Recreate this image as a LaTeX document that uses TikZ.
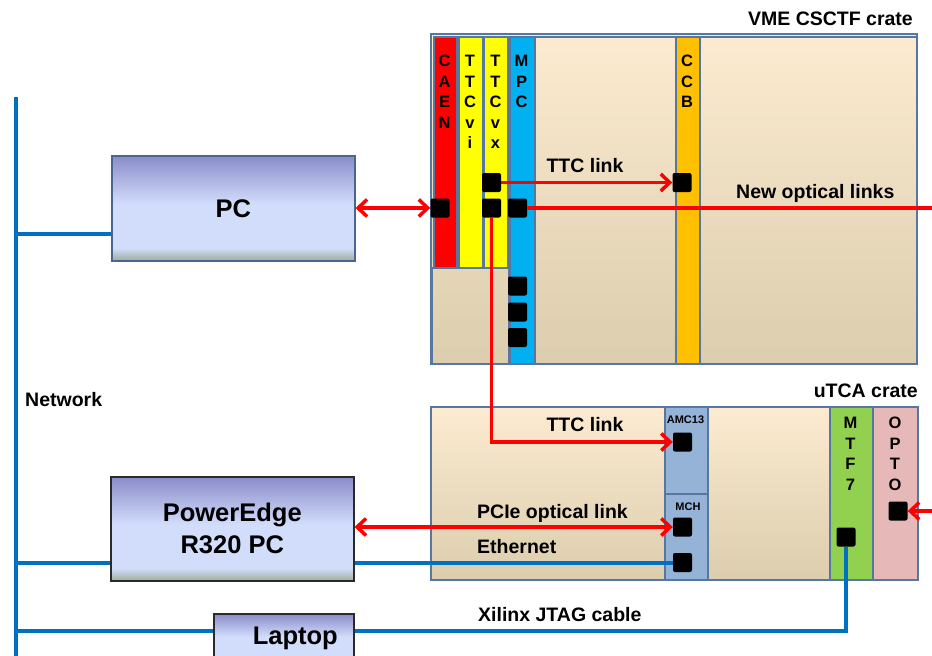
\documentclass[tikz,border=0pt]{standalone}
\usepackage{fontspec}
\setmainfont{Liberation Sans}
\usetikzlibrary{arrows.meta}
\definecolor{netblue}{HTML}{0070C0}
\definecolor{linkred}{HTML}{FF0000}
\definecolor{crateedge}{HTML}{56779F}
\definecolor{caenred}{HTML}{FF0000}
\definecolor{ttcyellow}{HTML}{FFFF00}
\definecolor{mpcblue}{HTML}{00B0F0}
\definecolor{ccborange}{HTML}{FFC000}
\definecolor{amcblue}{HTML}{95B3D7}
\definecolor{mtfgreen}{HTML}{92D050}
\definecolor{optopink}{HTML}{E6B9B8}
\definecolor{cratetop}{HTML}{FCEBD0}
\definecolor{cratebot}{HTML}{DCCDAE}
\definecolor{pctop}{HTML}{8A8CC9}
\definecolor{pclight}{HTML}{D2DDFB}
\definecolor{pcbot}{HTML}{9CAD98}
\definecolor{pcedge}{HTML}{4A6590}
\definecolor{darkedge}{HTML}{2A2A2A}
\pgfdeclareverticalshading{pcshade}{100bp}{color(0bp)=(pcbot); color(25bp)=(pcbot); color(31bp)=(pclight); color(52bp)=(pclight); color(75bp)=(pctop); color(100bp)=(pctop)}
\tikzset{
  crate/.style={draw=crateedge, line width=2pt, top color=cratetop, bottom color=cratebot, inner sep=0, anchor=north west},
  slotbox/.style={draw=crateedge, line width=1.5pt, inner sep=0, anchor=north west},
  sq/.style={fill=black, rounded corners=2pt, minimum size=19pt, inner sep=0},
  pcbox/.style={draw=pcedge, line width=1.5pt, shading=pcshade, inner sep=0, anchor=north west, align=center, font=\bfseries\fontsize{25.5}{32}\selectfont},
  lbl/.style={font=\bfseries\fontsize{19.5}{22}\selectfont, inner sep=0},
  slotlbl/.style={font=\bfseries\fontsize{16.5}{20.5}\selectfont, inner sep=0, anchor=north, align=center},
  tinylbl/.style={font=\bfseries\fontsize{11}{13}\selectfont, inner sep=0, anchor=base},
  netline/.style={draw=netblue, line width=4pt},
  redline/.style={draw=linkred, line width=3.5pt},
  redtip/.style={redline, -{Straight Barb[length=9pt, width=17pt]}},
  redboth/.style={redline, {Straight Barb[length=9pt, width=17pt]}-{Straight Barb[length=9pt, width=17pt]}}
}
\begin{document}
\begin{tikzpicture}[x=1pt, y=-1pt]
\useasboundingbox (0,0) rectangle (932,656);

% ---------- VME crate ----------
\node[crate, minimum width=486pt, minimum height=330pt] (vme) at (430,33) {};
\node[slotbox, fill=caenred, minimum width=23pt, minimum height=231pt] (caen) at (433,36) {};
\node[slotbox, fill=ttcyellow, minimum width=24pt, minimum height=231pt] (ttcvi) at (458,36) {};
\node[slotbox, fill=ttcyellow, minimum width=24pt, minimum height=231pt] (ttcvx) at (483,36) {};
\node[slotbox, minimum width=77pt, minimum height=96pt] (vmelow) at (431,267) {};
\node[slotbox, fill=mpcblue, minimum width=25pt, minimum height=327pt] (mpc) at (509,36) {};
\node[slotbox, minimum width=141pt, minimum height=327pt] (vmemid) at (534,36) {};
\node[slotbox, fill=ccborange, minimum width=24pt, minimum height=327pt] (ccb) at (675,36) {};
\node[slotbox, minimum width=217pt, minimum height=327pt] (vmeright) at (699,36) {};

\node[slotlbl] (caenlbl) at (444.5,55) {C\\A\\E\\N};
\node[slotlbl] (ttcvilbl) at (470,55) {T\\T\\C\\v\\i};
\node[slotlbl] (ttcvxlbl) at (495.5,55) {T\\T\\C\\v\\x};
\node[slotlbl] (mpclbl) at (521.5,55) {M\\P\\C};
\node[slotlbl] (ccblbl) at (687,55) {C\\C\\B};

\node[lbl, anchor=base east] (vmetitle) at (913,25) {VME CSCTF crate};

% ---------- uTCA crate ----------
\node[crate, minimum width=487pt, minimum height=173pt] (utca) at (430,406) {};
\node[slotbox, minimum width=234pt, minimum height=173pt] (utcaleft) at (430,406) {};
\node[slotbox, fill=amcblue, minimum width=43pt, minimum height=87pt] (amc) at (664,406) {};
\node[slotbox, fill=amcblue, minimum width=43pt, minimum height=86pt] (mch) at (664,493) {};
\node[slotbox, minimum width=122pt, minimum height=173pt] (utcamid) at (707,406) {};
\node[slotbox, fill=mtfgreen, minimum width=43pt, minimum height=173pt] (mtf) at (829,406) {};
\node[slotbox, fill=optopink, minimum width=45pt, minimum height=173pt] (opto) at (872,406) {};

\node[tinylbl] (amclbl) at (685.5,423) {AMC13};
\node[tinylbl] (mchlbl) at (688,510) {MCH};
\node[slotlbl] (mtflbl) at (850.5,417) {M\\T\\F\\7};
\node[slotlbl] (optolbl) at (895,417) {O\\P\\T\\O};

\node[lbl, anchor=base east] (utcatitle) at (918,397) {uTCA crate};

% ---------- connectors (squares) ----------
\node[sq] (caensq) at (440,208) {};
\node[sq] (ttcA) at (491.5,182.5) {};
\node[sq] (ttcB) at (491.5,208) {};
\node[sq] (mpcsq) at (517.5,208) {};
\node[sq] (mpcsq1) at (517.5,286) {};
\node[sq] (mpcsq2) at (517.5,312) {};
\node[sq] (mpcsq3) at (517.5,337.5) {};
\node[sq] (ccbsq) at (682,182.5) {};
\node[sq] (amcsq) at (682.5,442) {};
\node[sq] (mchA) at (682.5,527) {};
\node[sq] (mchB) at (682.5,562.5) {};
\node[sq] (mtfsq) at (846,537) {};
\node[sq] (optosq) at (898,511) {};

% ---------- computers ----------
\node[pcbox, minimum width=243pt, minimum height=105pt] (pc) at (111,155) {PC};
\node[pcbox, draw=darkedge, minimum width=243pt, minimum height=104pt] (pe) at (110,476) {PowerEdge\\R320 PC};
\node[pcbox, draw=darkedge, minimum width=140pt, minimum height=50pt] (lap) at (213,613) {\hspace*{23pt}Laptop};

% ---------- network ----------
\coordinate (ntop) at (15.5,97);
\coordinate (nbot) at (15.5,660);
\coordinate (npc) at (15.5,234);
\coordinate (npe) at (15.5,563);
\coordinate (nlap) at (15.5,631);
\draw[netline] (ntop) -- (nbot);
\draw[netline] (npc) -- (pc.west |- npc);
\draw[netline] (npe) -- (pe.west |- npe);
\draw[netline] (nlap) -- (lap.west |- nlap);
\node[lbl, anchor=base west] (netlbl) at (25,406) {Network};

\draw[netline] (pe.east |- mchB) -- (mchB.west);
\draw[netline] (lap.east |- nlap) -- (mtfsq |- nlap) -- (mtfsq.south);

% ---------- red links ----------
\draw[redboth] (pc.east |- caensq) -- (caensq.west);
\draw[redtip] (ttcA.east) -- (ccbsq.west);
\coordinate (optoutR) at (932,208);
\draw[redline] (mpcsq.east) -- (optoutR);
\draw[redtip] (ttcB.south) -- (ttcB |- amcsq) -- (amcsq.west);
\draw[redboth] (pe.east |- mchA) -- (mchA.west);
\coordinate (optoinR) at (932,511);
\draw[redtip] (optoinR) -- (optosq.east);

% ---------- link labels ----------
\node[lbl, anchor=base] (ttclbl1) at (585,172) {TTC link};
\node[lbl, anchor=base west] (newopt) at (736,198) {New optical links};
\node[lbl, anchor=base] (ttclbl2) at (585,431) {TTC link};
\node[lbl, anchor=base west] (pcielbl) at (477,518) {PCIe optical link};
\node[lbl, anchor=base west] (ethlbl) at (477,553) {Ethernet};
\node[lbl, anchor=base west] (jtaglbl) at (478,621) {Xilinx JTAG cable};
\end{tikzpicture}
\end{document}
